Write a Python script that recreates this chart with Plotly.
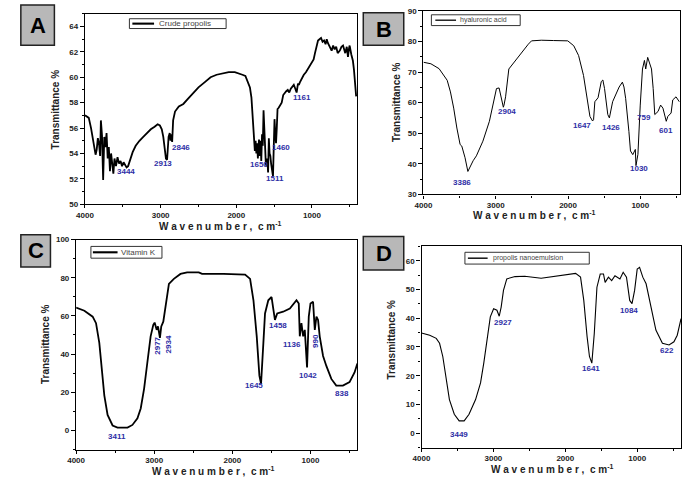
import plotly.graph_objects as go

# ---------------- data ----------------
a_wn = [4000,3950,3920,3890,3860,3845,3830,3815,3800,3790,3775,3760,3745,3730,3715,3700,3685,3670,3655,3640,
        3625,3610,3590,3570,3550,3530,3510,3490,3470,3450,3430,3400,3370,3330,3280,3230,3180,3130,3080,3040,
        3010,2985,2965,2945,2930,2915,2905,2895,2880,2870,2860,2848,2835,2810,2760,2700,2640,2580,2500,2420,
        2340,2260,2180,2100,2020,1960,1920,1880,1860,1840,1820,1800,1790,1775,1765,1755,1745,1735,1725,1715,
        1700,1690,1680,1670,1660,1650,1640,1630,1620,1610,1600,1590,1580,1570,1560,1550,1540,1525,1515,1505,
        1495,1485,1475,1465,1455,1440,1420,1400,1380,1360,1340,1320,1300,1280,1260,1240,1220,1203,1185,1173,
        1160,1143,1120,1108,1080,1060,1040,1020,1000,978,960,940,920,900,880,860,840,820,805,790,
        762,740,720,700,680,660,632,610,589,560,540,524,510,502,480,459,445,437,425,416]
a_t = [57.0,56.8,56.0,55.0,53.9,54.3,55.2,54.8,53.8,56.6,55.4,51.9,55.3,54.5,55.6,53.6,54.5,52.6,54.0,53.2,
       52.4,53.6,53.0,53.7,53.2,53.4,53.0,53.3,53.1,52.9,53.0,53.6,54.1,54.6,55.0,55.3,55.6,55.9,56.1,56.3,
       56.2,55.9,55.3,54.4,53.6,53.5,54.6,55.3,55.6,55.0,55.5,54.9,56.6,57.3,57.7,57.9,58.3,58.7,59.2,59.6,
       60.0,60.2,60.3,60.4,60.4,60.3,60.2,60.1,59.8,59.5,59.2,58.4,57.2,56.0,55.0,54.2,55.0,54.0,54.8,53.6,
       55.1,53.8,55.0,53.4,55.5,54.6,57.4,56.0,53.7,53.2,53.0,53.6,52.5,55.2,54.0,53.8,53.2,52.3,52.2,54.5,
       56.7,55.5,54.8,56.0,57.5,57.6,57.8,58.0,58.6,58.8,58.9,59.0,58.8,59.1,59.3,59.4,59.1,58.8,59.5,59.4,
       59.6,59.8,60.0,60.2,60.4,60.6,60.8,61.0,61.2,61.4,61.9,62.5,62.9,63.0,63.1,62.8,62.9,62.6,63.0,62.7,
       62.4,62.1,62.5,62.2,62.4,61.9,62.1,62.4,62.5,61.9,62.4,61.6,62.3,62.5,61.8,61.3,60.6,59.9,59.0,58.5]
a_peak_text = ["3444","2913","2846","1650","1511","1460","1161"]
a_peak_x = [3460,2965,2725,1695,1490,1415,1130]
a_peak_y = [52.6,53.2,54.5,53.1,52.0,54.5,58.4]

b_wn = [4000,3897,3784,3717,3672,3627,3582,3538,3493,3470,3425,3386,3350,3313,3268,3178,3088,3021,2990,2954,
        2932,2909,2895,2886,2864,2819,2729,2639,2550,2505,2370,2200,2004,1921,1854,1786,1741,1697,1661,1647,
        1629,1585,1540,1518,1495,1450,1428,1383,1293,1248,1226,1203,1158,1136,1104,1069,1060,1045,1033,1001,
        970,943,925,898,867,845,822,800,755,719,687,641,619,574,551,506,461]
b_t = [73.2,72.7,71.1,68.9,67.3,63.5,58.2,51.7,46.3,45.8,42.0,37.5,39.5,41.0,42.6,47.4,53.9,61.4,64.6,64.8,
       62.5,60.3,58.5,59.2,61.9,71.0,73.8,76.5,79.1,80.2,80.4,80.3,80.2,78.6,75.4,68.9,61.4,55.5,54.0,54.4,
       60.3,61.6,66.9,67.4,64.6,56.1,55.0,60.3,65.1,66.7,65.1,61.4,50.6,44.2,43.0,44.7,39.4,41.0,43.1,59.2,
       71.0,73.8,71.0,74.8,72.2,71.0,64.6,56.1,57.1,59.2,58.2,53.9,55.5,56.6,60.9,61.9,60.3]
b_peak_text = ["3386","2904","1647","1426","1030","759","601"]
b_peak_x = [3470,2842,1809,1405,1023,947,641]
b_peak_y = [34.0,57.0,52.5,51.9,38.5,55.2,50.8]

c_wn = [4000,3894,3788,3745,3703,3673,3639,3597,3533,3470,3342,3279,3215,3173,3130,3088,3046,3012,2995,2969,
        2952,2927,2910,2884,2854,2812,2749,2664,2579,2430,2388,2112,1837,1773,1730,1688,1654,1640,1633,1603,
        1582,1540,1498,1477,1455,1426,1350,1264,1179,1150,1137,1116,1094,1073,1044,1022,1000,967,945,924,
        903,882,839,797,733,670,585,500,436,400]
c_t = [64.3,62.7,59.6,56.2,45.9,33.8,18.4,8.1,2.6,1.5,1.5,2.9,6.4,11.5,21.8,35.6,49.3,55.3,56.5,52.7,
       54.5,48.5,54.5,57.0,64.8,76.8,79.4,82.0,82.8,82.8,82.0,82.0,81.6,79.4,68.2,49.3,28.7,25.0,24.4,45.9,
       61.3,68.2,69.9,63.9,57.9,61.3,62.2,63.9,68.2,66.5,49.3,56.2,49.3,52.7,33.0,59.6,66.5,67.4,52.7,59.6,
       57.9,49.3,39.0,33.8,27.0,23.5,23.5,25.3,30.4,35.0]
c_peak_text = ["3411","2977","2934","1645","1458","1136","990","1042","838"]
c_peak_x = [3478,2969,2812,1722,1412,1242,933,1030,593]
c_peak_y = [-3.1,44.2,45.0,23.5,54.8,45.0,46.7,28.7,19.2]
c_peak_angle = [0,-90,-90,0,0,0,-90,0,0]

d_wn = [4000,3886,3795,3749,3704,3658,3612,3544,3476,3407,3339,3248,3179,3134,3088,3043,2997,2951,2919,2892,
        2860,2814,2700,2564,2336,2108,1857,1788,1743,1697,1664,1631,1597,1560,1514,1469,1446,1400,1355,1309,
        1240,1195,1149,1104,1072,1036,1000,967,922,876,808,740,649,557,489,443,390]
d_t = [34.9,34.1,33.0,31.3,26.7,18.6,11.7,6.6,4.3,4.3,6.6,11.7,17.5,24.4,32.4,40.5,43.3,42.8,40.7,43.9,
       49.7,53.7,54.5,54.6,53.9,54.8,55.6,54.3,46.2,33.6,26.7,24.4,34.7,50.8,55.4,55.4,52.5,54.3,53.1,54.8,
       53.7,56.0,54.3,46.2,45.1,49.7,57.1,57.7,54.3,52.0,43.9,35.9,31.3,30.7,31.8,34.1,39.9]
d_peak_text = ["3449","2927","1641","1084","622"]
d_peak_x = [3485,2860,1643,1114,580]
d_peak_y = [-0.6,38.4,22.6,42.8,28.7]

series_names = ["Crude propolis", "hyaluronic acid", "Vitamin K", "propolis nanoemulsion"]
panel_letters = ["A", "B", "C", "D"]

# ---------------- layout helpers ----------------
W, H = 685, 484
def px(x): return x / W
def py(y): return 1 - y / H

# plot-area pixel boxes (left, top, right, bottom)
boxes = [(77, 10, 353, 204), (420, 7, 680, 194), (68, 240, 353, 454), (418, 247, 681, 452)]
xranges = [[4000, 400], [4000, 450], [4000, 400], [4000, 390]]
yranges = [[50, 65], [30, 90], [-10, 100], [-5, 65]]
ydticks = [2, 10, 20, 10]
yminor = [1, 5, 10, 5]
line_widths = [1.8, 1.0, 1.8, 1.1]

fig = go.Figure()
series = [(a_wn, a_t), (b_wn, b_t), (c_wn, c_t), (d_wn, d_t)]
for i, (xs, ys) in enumerate(series):
    sfx = "" if i == 0 else str(i + 1)
    fig.add_trace(go.Scatter(x=xs, y=ys, mode="lines", name=series_names[i],
                             line=dict(color="black", width=line_widths[i]),
                             xaxis="x" + sfx, yaxis="y" + sfx, showlegend=False))

FONT = "Arial, Liberation Sans, sans-serif"
tickfont = dict(family=FONT, size=8, color="#222", weight="bold")
for i, (l, t, r, b) in enumerate(boxes):
    sfx = "" if i == 0 else str(i + 1)
    common = dict(showline=True, mirror=True, linecolor="black", linewidth=1.4,
                  showgrid=False, zeroline=False, ticks="outside", tickcolor="black",
                  tickfont=tickfont)
    fig.layout["xaxis" + sfx] = dict(domain=[px(l), px(r)], range=xranges[i], anchor="y" + sfx,
                                     tickvals=[4000, 3000, 2000, 1000], ticklen=3,
                                     minor=dict(tickvals=[3500, 2500, 1500, 500], ticks="outside", ticklen=2, tickcolor="black"),
                                     **common)
    fig.layout["yaxis" + sfx] = dict(domain=[py(b), py(t)], range=yranges[i], anchor="x" + sfx,
                                     dtick=ydticks[i], tick0=0, ticklen=4,
                                     minor=dict(dtick=yminor[i], ticks="outside", ticklen=2, tickcolor="black"),
                                     **common)

ann = []
peak_font = dict(family=FONT, size=8, color="#2e2ea6", weight="bold")
peaks = [(a_peak_text, a_peak_x, a_peak_y, None),
         (b_peak_text, b_peak_x, b_peak_y, None),
         (c_peak_text, c_peak_x, c_peak_y, c_peak_angle),
         (d_peak_text, d_peak_x, d_peak_y, None)]
for i, (txts, xs, ys, angs) in enumerate(peaks):
    sfx = "" if i == 0 else str(i + 1)
    for k, (tx, x, y) in enumerate(zip(txts, xs, ys)):
        ann.append(dict(text=tx, x=x, y=y, xref="x" + sfx, yref="y" + sfx, showarrow=False,
                        xanchor="center", yanchor="middle",
                        font=peak_font, textangle=(angs[k] if angs else 0)))

# axis titles
title_font = dict(family=FONT, size=10, color="#222", weight="bold")
ytitle_pos = [(47, 107), (392, 100), (37, 347), (388, 342)]
xtitle_pos = [(214, 226), (532, 215), (207, 476), (550, 474)]
for (x, y) in ytitle_pos:
    ann.append(dict(text="Transmittance %", x=px(x), y=py(y), xref="paper", yref="paper",
                    xanchor="center", yanchor="middle",
                    showarrow=False, textangle=-90, font=title_font))
for (x, y) in xtitle_pos:
    ann.append(dict(text="W a v e n u m b e r ,  c m<sup>-1</sup>", x=px(x), y=py(y), xref="paper", yref="paper",
                    xanchor="center", yanchor="middle", showarrow=False, font=title_font))

shapes = []
# panel letter boxes
letter_boxes = [(12, 1, 46, 42), (359, 9, 400, 42), (12, 235, 42, 268), (359, 237, 400, 271)]
for i, (l, t, r, b) in enumerate(letter_boxes):
    shapes.append(dict(type="rect", xref="paper", yref="paper", x0=px(l), x1=px(r), y0=py(b), y1=py(t),
                       fillcolor="#b8b8b8", line=dict(color="#222", width=1.5)))
    ann.append(dict(text=panel_letters[i], x=px((l + r) / 2), y=py((t + b) / 2), xref="paper", yref="paper",
                    xanchor="center", yanchor="middle",
                    showarrow=False, font=dict(family=FONT, size=22, color="black", weight="bold")))

# legend boxes: (box l, t, r, b, line x0, x1, text x, font size)
legend_boxes = [(122, 15, 220, 25, 125, 147, 150, 8),
                (428, 11, 518, 22, 432, 453, 455, 7),
                (83, 247, 155, 259, 85, 110, 111, 8),
                (462, 253, 588, 265, 465, 485, 488, 7)]
for i, (l, t, r, b, lx0, lx1, tx, fs) in enumerate(legend_boxes):
    shapes.append(dict(type="rect", xref="paper", yref="paper", x0=px(l), x1=px(r), y0=py(b), y1=py(t),
                       fillcolor="white", line=dict(color="#333", width=1)))
    shapes.append(dict(type="line", xref="paper", yref="paper", x0=px(lx0), x1=px(lx1),
                       y0=py((t + b) / 2), y1=py((t + b) / 2),
                       line=dict(color="black", width=line_widths[i] + 0.3)))
    ann.append(dict(text=series_names[i], x=px(tx), y=py((t + b) / 2), xref="paper", yref="paper",
                    xanchor="left", yanchor="middle", showarrow=False,
                    font=dict(family=FONT, size=fs, color="#444")))

fig.update_layout(width=W, height=H, margin=dict(l=0, r=0, t=0, b=0),
                  paper_bgcolor="white", plot_bgcolor="white",
                  annotations=ann, shapes=shapes, showlegend=False)

fig.write_html("out.html", config={"displayModeBar": False},
               post_script="document.body.style.margin='0';document.body.style.overflow='hidden';")
